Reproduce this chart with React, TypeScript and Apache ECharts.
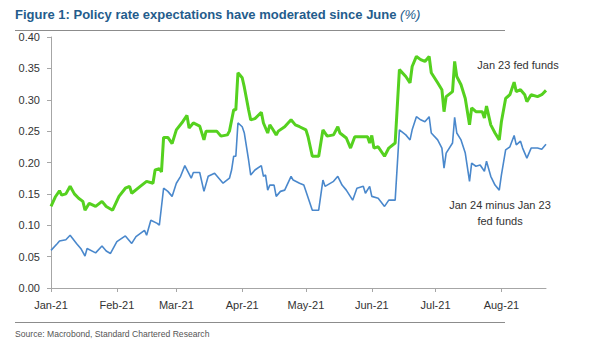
import React, { useEffect, useRef } from "react";
import * as echarts from "echarts";

const TITLE = "Figure 1: Policy rate expectations have moderated since June ";
const TITLE_UNIT = "(%)";
const SOURCE = "Source: Macrobond, Standard Chartered Research";
const GREEN_LABEL = "Jan 23 fed funds";
const BLUE_LABEL = ["Jan 24 minus Jan 23", "fed funds"];
const MONTHS = ["Jan", "Feb", "Mar", "Apr", "May", "Jun", "Jul", "Aug", "Sep", "Oct", "Nov", "Dec"];
const Y_MIN = 0;
const Y_MAX = 0.4;
const Y_STEP = 0.05;
const X_MIN = "2021-01-01";
const X_MAX = "2021-08-22";

// Jan 23 fed funds (green)
const greenDates = [
  "01-01", "01-03", "01-05", "01-06", "01-08", "01-10", "01-12", "01-14", "01-16", "01-17",
  "01-19", "01-22", "01-25", "01-27", "01-30", "02-02", "02-05", "02-07", "02-08", "02-12",
  "02-15", "02-18", "02-19", "02-21", "02-22", "02-23", "02-25", "02-27", "03-01", "03-04",
  "03-06", "03-07", "03-09", "03-12", "03-14", "03-15", "03-20", "03-22", "03-25", "03-26",
  "03-28", "03-29", "03-30", "04-01", "04-02", "04-04", "04-05", "04-07", "04-10", "04-11",
  "04-13", "04-14", "04-15", "04-17", "04-18", "04-21", "04-24", "04-26", "04-28", "05-01",
  "05-02", "05-04", "05-07", "05-09", "05-11", "05-14", "05-16", "05-17", "05-20", "05-22",
  "05-24", "05-30", "05-31", "06-01", "06-02", "06-04", "06-07", "06-09", "06-12", "06-14",
  "06-17", "06-19", "06-20", "06-22", "06-24", "06-26", "06-28", "06-29", "07-02", "07-04",
  "07-05", "07-06", "07-09", "07-10", "07-11", "07-13", "07-15", "07-17", "07-18", "07-20",
  "07-21", "07-23", "07-24", "07-25", "07-27", "07-29", "07-31", "08-01", "08-03", "08-05",
  "08-07", "08-08", "08-10", "08-12", "08-13", "08-15", "08-18", "08-20", "08-22",
];
const greenValues = [
  0.130, 0.145, 0.155, 0.148, 0.150, 0.162, 0.150, 0.143, 0.138, 0.124,
  0.135, 0.130, 0.138, 0.130, 0.124, 0.146, 0.159, 0.162, 0.151, 0.162,
  0.170, 0.167, 0.188, 0.190, 0.185, 0.240, 0.240, 0.230, 0.252, 0.265,
  0.275, 0.255, 0.263, 0.258, 0.236, 0.250, 0.250, 0.242, 0.244, 0.250,
  0.284, 0.284, 0.343, 0.335, 0.320, 0.284, 0.268, 0.270, 0.280, 0.263,
  0.247, 0.260, 0.255, 0.244, 0.250, 0.257, 0.268, 0.260, 0.257, 0.252,
  0.241, 0.210, 0.210, 0.252, 0.242, 0.244, 0.257, 0.247, 0.239, 0.223,
  0.241, 0.241, 0.231, 0.243, 0.223, 0.225, 0.210, 0.223, 0.231, 0.348,
  0.337, 0.327, 0.353, 0.369, 0.364, 0.361, 0.369, 0.343, 0.327, 0.316,
  0.281, 0.305, 0.313, 0.361, 0.337, 0.324, 0.302, 0.260, 0.287, 0.281,
  0.281, 0.281, 0.271, 0.290, 0.260, 0.247, 0.236, 0.265, 0.302, 0.308,
  0.328, 0.313, 0.316, 0.308, 0.297, 0.308, 0.305, 0.308, 0.315,
];

// Jan 24 minus Jan 23 fed funds (blue)
const blueDates = [
  "01-01", "01-04", "01-05", "01-08", "01-10", "01-13", "01-15", "01-17", "01-18", "01-22",
  "01-25", "01-27", "01-29", "02-01", "02-05", "02-08", "02-10", "02-14", "02-15", "02-17",
  "02-20", "02-21", "02-23", "02-25", "02-27", "03-01", "03-03", "03-05", "03-08", "03-09",
  "03-12", "03-14", "03-16", "03-19", "03-21", "03-23", "03-26", "03-27", "03-28", "03-29",
  "03-30", "04-01", "04-02", "04-04", "04-05", "04-07", "04-10", "04-11", "04-12", "04-13",
  "04-14", "04-16", "04-17", "04-19", "04-21", "04-24", "04-25", "04-28", "04-30", "05-01",
  "05-04", "05-07", "05-09", "05-10", "05-12", "05-14", "05-16", "05-18", "05-20", "05-23",
  "05-25", "05-28", "05-29", "05-31", "06-01", "06-04", "06-07", "06-09", "06-12", "06-14",
  "06-17", "06-19", "06-20", "06-22", "06-24", "06-26", "06-28", "06-29", "07-02", "07-04",
  "07-05", "07-06", "07-09", "07-10", "07-11", "07-13", "07-15", "07-17", "07-18", "07-20",
  "07-22", "07-24", "07-25", "07-27", "07-29", "07-31", "08-01", "08-03", "08-05", "08-07",
  "08-08", "08-10", "08-11", "08-13", "08-15", "08-18", "08-20", "08-22",
];
const blueValues = [
  0.060, 0.071, 0.075, 0.077, 0.084, 0.071, 0.063, 0.051, 0.063, 0.056,
  0.067, 0.059, 0.055, 0.074, 0.083, 0.071, 0.082, 0.092, 0.084, 0.108,
  0.103, 0.100, 0.159, 0.154, 0.146, 0.167, 0.178, 0.195, 0.175, 0.184,
  0.184, 0.154, 0.178, 0.183, 0.175, 0.167, 0.175, 0.188, 0.210, 0.210,
  0.263, 0.257, 0.247, 0.204, 0.180, 0.188, 0.195, 0.178, 0.180, 0.156,
  0.164, 0.164, 0.146, 0.154, 0.156, 0.178, 0.172, 0.167, 0.164, 0.154,
  0.124, 0.124, 0.172, 0.162, 0.166, 0.170, 0.178, 0.164, 0.156, 0.140,
  0.159, 0.162, 0.151, 0.162, 0.146, 0.143, 0.130, 0.140, 0.140, 0.252,
  0.244, 0.236, 0.252, 0.273, 0.268, 0.265, 0.273, 0.247, 0.236, 0.223,
  0.191, 0.215, 0.231, 0.272, 0.247, 0.236, 0.215, 0.170, 0.199, 0.194,
  0.196, 0.186, 0.202, 0.178, 0.164, 0.156, 0.180, 0.220, 0.225, 0.243,
  0.228, 0.234, 0.223, 0.207, 0.223, 0.223, 0.221, 0.229,
];

const FONT = "'Liberation Sans', Arial, sans-serif";

const toPairs = (dates: string[], values: number[]) =>
  dates.map((d, i) => ["2021-" + d, values[i]]);

export default function App() {
  const ref = useRef<HTMLDivElement>(null);
  useEffect(() => {
    if (!ref.current) return;
    const chart = echarts.init(ref.current, undefined, { renderer: "svg" });
    chart.setOption({
      animation: false,
      backgroundColor: "#ffffff",
      grid: { left: 51, right: 46, top: 37, bottom: 61 },
      xAxis: {
        type: "time",
        min: X_MIN,
        max: X_MAX,
        splitNumber: 8,
        axisLine: { lineStyle: { color: "#a6a6a6", width: 1 } },
        axisTick: { show: true, length: 4, lineStyle: { color: "#a6a6a6" } },
        splitLine: { show: false },
        axisLabel: {
          color: "#333333",
          fontFamily: FONT,
          fontSize: 11,
          margin: 11,
          showMinLabel: true,
          formatter: (val: number) => {
            const dt = new Date(val);
            return MONTHS[dt.getMonth()] + "-" + String(dt.getFullYear()).slice(2);
          },
        },
      },
      yAxis: {
        type: "value",
        min: Y_MIN,
        max: Y_MAX,
        interval: Y_STEP,
        axisLine: { show: true, lineStyle: { color: "#a6a6a6", width: 1 } },
        axisTick: { show: true, length: 4, lineStyle: { color: "#a6a6a6" } },
        splitLine: { show: false },
        axisLabel: {
          color: "#333333",
          fontFamily: FONT,
          fontSize: 11,
          margin: 11,
          formatter: (v: number) => v.toFixed(2),
        },
      },
      series: [
        {
          name: GREEN_LABEL,
          type: "line",
          data: toPairs(greenDates, greenValues),
          showSymbol: false,
          lineStyle: { color: "#55d11f", width: 3 },
          itemStyle: { color: "#55d11f" },
        },
        {
          name: BLUE_LABEL.join(" "),
          type: "line",
          data: toPairs(blueDates, blueValues),
          showSymbol: false,
          lineStyle: { color: "#4a88cc", width: 1.6 },
          itemStyle: { color: "#4a88cc" },
        },
      ],
      graphic: [
        {
          type: "text",
          left: 15,
          top: 8,
          style: {
            text: "{b|" + TITLE + "}{i|" + TITLE_UNIT + "}",
            rich: {
              b: { fontFamily: FONT, fontSize: 13, fontWeight: "bold", fill: "#245c8c" },
              i: { fontFamily: FONT, fontSize: 13, fontStyle: "italic", fill: "#245c8c" },
            },
          },
        },
        {
          type: "line",
          shape: { x1: 15, y1: 30.5, x2: 505, y2: 30.5 },
          style: { stroke: "#8c8c8c", lineWidth: 1.2 },
        },
        {
          type: "line",
          shape: { x1: 15, y1: 322.5, x2: 505, y2: 322.5 },
          style: { stroke: "#8c8c8c", lineWidth: 1.2 },
        },
        {
          type: "text",
          left: 15,
          top: 329,
          style: { text: SOURCE, fontFamily: FONT, fontSize: 8.6, fill: "#555555" },
        },
        {
          type: "text",
          x: 518,
          y: 65,
          style: {
            text: GREEN_LABEL,
            fontFamily: FONT,
            fontSize: 11,
            fill: "#333333",
            align: "center",
            verticalAlign: "middle",
          },
        },
        {
          type: "text",
          x: 500,
          y: 213,
          style: {
            text: BLUE_LABEL.join("\n"),
            fontFamily: FONT,
            fontSize: 11,
            lineHeight: 16,
            fill: "#333333",
            align: "center",
            verticalAlign: "middle",
          },
        },
      ],
    });
    return () => chart.dispose();
  }, []);
  return <div ref={ref} style={{ width: 592, height: 349, position: "absolute", left: 0, top: 0 }} />;
}
